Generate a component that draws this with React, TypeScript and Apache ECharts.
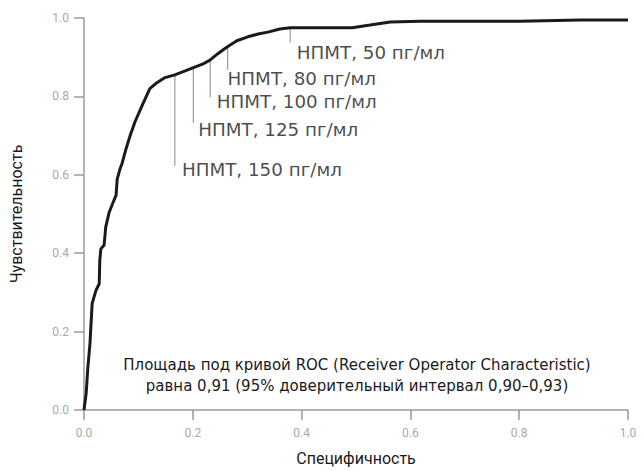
import React, { useEffect, useRef } from "react";
import * as echarts from "echarts";

// ROC curve points [specificity axis value, sensitivity]
const rocX = [0, 0.004, 0.007, 0.011, 0.015, 0.022, 0.028, 0.029, 0.031, 0.037, 0.04, 0.046, 0.053, 0.059, 0.061, 0.066, 0.07, 0.077, 0.085, 0.094, 0.107, 0.121, 0.134, 0.149, 0.167, 0.186, 0.2, 0.219, 0.232, 0.246, 0.263, 0.281, 0.301, 0.32, 0.338, 0.36, 0.379, 0.434, 0.493, 0.526, 0.563, 0.618, 0.691, 0.801, 0.912, 1.0];
const rocY = [0, 0.043, 0.107, 0.17, 0.272, 0.305, 0.322, 0.381, 0.411, 0.421, 0.467, 0.503, 0.528, 0.548, 0.589, 0.614, 0.629, 0.665, 0.701, 0.736, 0.777, 0.82, 0.835, 0.848, 0.855, 0.865, 0.873, 0.883, 0.893, 0.909, 0.926, 0.942, 0.952, 0.959, 0.964, 0.972, 0.975, 0.975, 0.975, 0.982, 0.99, 0.992, 0.992, 0.992, 0.995, 0.995];

// Threshold annotations
const annLabels = ["НПМТ, 150 пг/мл", "НПМТ, 125 пг/мл", "НПМТ, 100 пг/мл", "НПМТ, 80 пг/мл", "НПМТ, 50 пг/мл"];
const annX = [0.167, 0.201, 0.232, 0.264, 0.379];
const annTop = [0.855, 0.873, 0.893, 0.926, 0.975];
const annBottom = [0.623, 0.733, 0.797, 0.868, 0.937];
const annLabelX = [0.18, 0.21, 0.244, 0.264, 0.391];
const annLabelY = [0.614, 0.716, 0.787, 0.845, 0.911];

const xTicks = [0, 0.2, 0.4, 0.6, 0.8, 1.0];
const yTicks = [0, 0.2, 0.4, 0.6, 0.8, 1.0];

const areaText = [
  "Площадь под кривой ROC (Receiver Operator Characteristic)",
  "равна 0,91 (95% доверительный интервал 0,90–0,93)",
];

const FONT = "Roboto, 'Noto Sans', sans-serif";
const WIDE = "'DejaVu Sans', 'Noto Sans', sans-serif";

export default function App() {
  const ref = useRef<HTMLDivElement>(null);
  useEffect(() => {
    if (!ref.current) return;
    const chart = echarts.init(ref.current, undefined, { renderer: "svg" });
    const axisCommon = {
      type: "value" as const,
      min: 0,
      max: 1,
      interval: 0.2,
      axisLine: { show: true, lineStyle: { color: "#9a9a9a", width: 1.5 } },
      axisTick: { show: true, length: 10, lineStyle: { color: "#9a9a9a", width: 1.5 } },
      splitLine: { show: false },
      axisLabel: {
        color: "#a8a8a8",
        fontSize: 12,
        fontFamily: FONT,
        formatter: (v: number) => v.toFixed(1),
      },
      nameTextStyle: { color: "#1a1a1a", fontSize: 16, fontFamily: FONT },
    };
    const annSeries = annLabels.map((_, i) => ({
      type: "line" as const,
      data: [
        [annX[i], annTop[i]],
        [annX[i], annBottom[i]],
      ],
      symbol: "none",
      lineStyle: { color: "#9a9a9a", width: 1.2 },
      silent: true,
      z: 1,
    }));
    chart.setOption({
      animation: false,
      grid: { left: 84, right: 16, top: 18, bottom: 59, containLabel: false },
      xAxis: {
        ...axisCommon,
        name: "Специфичность",
        nameLocation: "middle",
        nameGap: 40,
        axisLabel: { ...axisCommon.axisLabel, margin: 17 },
      },
      yAxis: {
        ...axisCommon,
        name: "Чувствительность",
        nameLocation: "middle",
        nameGap: 60,
        axisLabel: { ...axisCommon.axisLabel, margin: 15 },
      },
      graphic: [
        {
          type: "text",
          x: 357,
          y: 365,
          style: {
            text: areaText[0],
            fontSize: 15,
            fontFamily: WIDE,
            fill: "#1a1a1a",
            textAlign: "center",
            textVerticalAlign: "middle",
          },
        },
        {
          type: "text",
          x: 357,
          y: 386,
          style: {
            text: areaText[1],
            fontSize: 15,
            fontFamily: WIDE,
            fill: "#1a1a1a",
            textAlign: "center",
            textVerticalAlign: "middle",
          },
        },
      ],
      series: [
        ...annSeries,
        {
          type: "line",
          data: rocX.map((x, i) => [x, rocY[i]]),
          symbol: "none",
          lineStyle: { color: "#1a1a1a", width: 3 },
          z: 3,
        },
        {
          type: "scatter",
          data: annLabels.map((t, i) => ({ value: [annLabelX[i], annLabelY[i]], name: t })),
          symbolSize: 0,
          silent: true,
          label: {
            show: true,
            position: "right",
            distance: 0,
            formatter: (p: any) => p.name,
            color: "#1a1a1a",
            fontSize: 18.3,
            fontFamily: WIDE,
          },
          z: 4,
        },
      ],
    });
    return () => chart.dispose();
  }, []);
  return <div ref={ref} style={{ width: 644, height: 471, position: "absolute", left: 0, top: 0 }} />;
}
